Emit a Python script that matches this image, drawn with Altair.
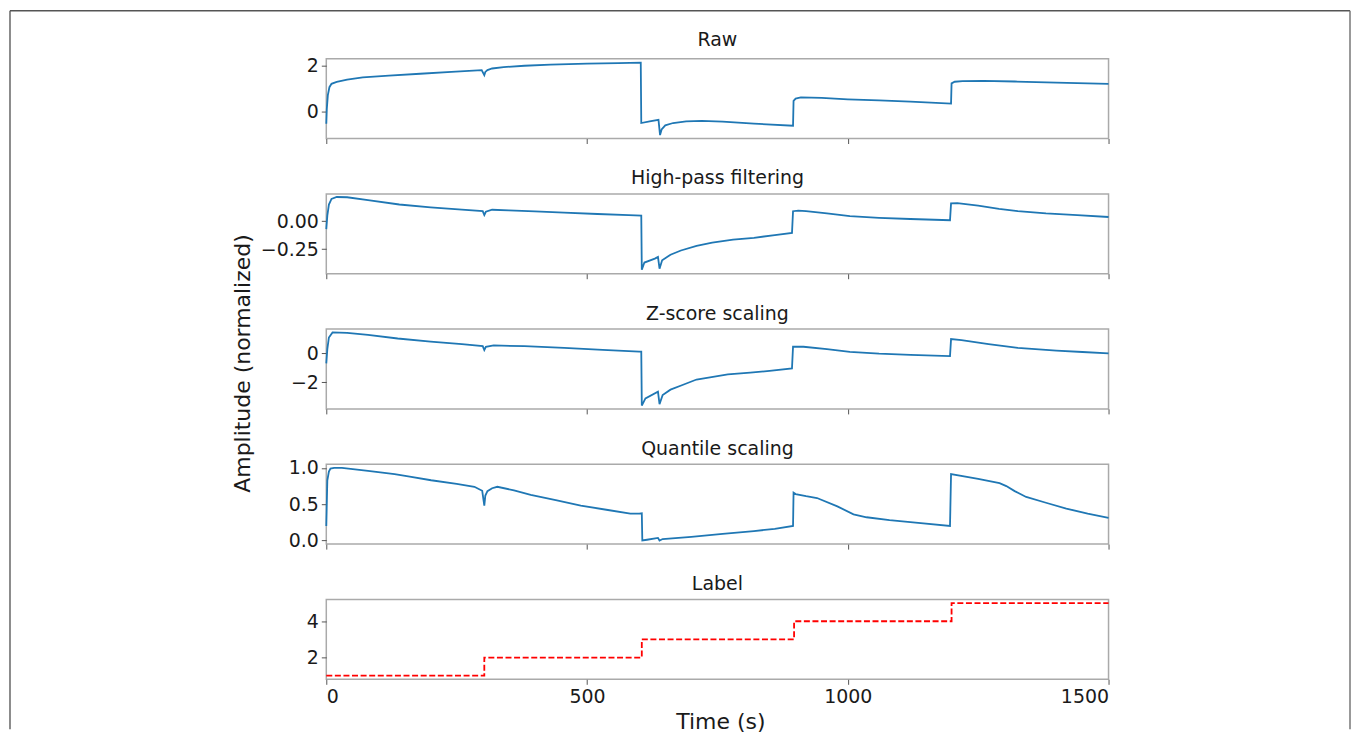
import altair as alt
import pandas as pd

# ---------------- data ----------------
raw_t = [0, 1, 3, 6, 10, 20, 40, 70, 120, 180, 240, 298, 303, 305, 309, 318, 340, 380, 430, 500, 560,
         603, 604, 620, 637, 640, 643, 650, 665, 690, 720, 760, 820, 895, 896, 900, 910, 950, 1000,
         1060, 1120, 1198, 1199, 1205, 1220, 1260, 1320, 1400, 1460, 1500]
raw_v = [-0.55, 0.1, 0.7, 1.05, 1.2, 1.28, 1.38, 1.48, 1.56, 1.64, 1.72, 1.80, 1.58, 1.72, 1.80, 1.87,
         1.93, 1.99, 2.04, 2.08, 2.11, 2.13, -0.52, -0.45, -0.38, -1.05, -0.8, -0.62, -0.52, -0.45,
         -0.43, -0.46, -0.55, -0.64, 0.45, 0.55, 0.6, 0.58, 0.52, 0.47, 0.42, 0.33, 1.22, 1.29, 1.32,
         1.33, 1.30, 1.25, 1.22, 1.20]

hp_t = [0, 2, 5, 10, 20, 40, 80, 140, 200, 260, 300, 303, 306, 318, 350, 400, 456, 520, 580, 604,
        605, 610, 630, 636, 639, 644, 660, 680, 710, 740, 780, 820, 860, 893, 895, 905, 920, 960,
        1004, 1060, 1120, 1196, 1198, 1210, 1250, 1290, 1326, 1380, 1440, 1500]
hp_v = [-0.07, 0.05, 0.15, 0.2, 0.217, 0.215, 0.19, 0.15, 0.125, 0.105, 0.09, 0.055, 0.085, 0.103,
        0.098, 0.088, 0.077, 0.065, 0.055, 0.05, -0.435, -0.37, -0.335, -0.32, -0.425, -0.35, -0.3,
        -0.262, -0.22, -0.192, -0.165, -0.148, -0.125, -0.104, 0.09, 0.095, 0.09, 0.07, 0.045, 0.03,
        0.02, 0.009, 0.16, 0.162, 0.14, 0.11, 0.09, 0.07, 0.055, 0.038]

z_t = [0, 2, 5, 12, 40, 80, 137, 200, 260, 300, 303, 306, 321, 380, 456, 530, 600, 604, 605, 612,
       636, 639, 645, 660, 683, 710, 730, 770, 813, 850, 893, 895, 915, 960, 1004, 1060, 1120, 1196,
       1198, 1218, 1270, 1326, 1400, 1450, 1500]
z_v = [-0.69, 0.3, 1.1, 1.45, 1.42, 1.28, 1.03, 0.82, 0.64, 0.5, 0.23, 0.45, 0.55, 0.5, 0.39, 0.25,
       0.13, 0.12, -3.6, -3.1, -2.64, -3.5, -2.87, -2.5, -2.18, -1.8, -1.68, -1.45, -1.33, -1.2,
       -1.03, 0.46, 0.46, 0.3, 0.11, -0.02, -0.1, -0.18, 0.99, 0.92, 0.65, 0.39, 0.2, 0.1, 0.0]

q_t = [0, 2, 5, 8, 15, 30, 80, 131, 160, 201, 250, 284, 299, 303, 305, 309, 318, 328, 360, 392, 440,
       488, 540, 583, 600, 605, 606, 615, 636, 639, 645, 700, 760, 820, 860, 895, 896, 900, 920, 941,
       980, 1011, 1036, 1080, 1130, 1196, 1198, 1250, 1291, 1304, 1320, 1342, 1380, 1419, 1460, 1500]
q_v = [0.2, 0.83, 0.95, 0.99, 1.0, 1.0, 0.96, 0.915, 0.88, 0.83, 0.78, 0.74, 0.685, 0.48, 0.62, 0.68,
       0.72, 0.74, 0.69, 0.63, 0.555, 0.48, 0.42, 0.37, 0.37, 0.374, 0.0, 0.01, 0.036, 0.0, 0.02,
       0.05, 0.09, 0.13, 0.16, 0.2, 0.66, 0.64, 0.61, 0.585, 0.47, 0.36, 0.32, 0.28, 0.245, 0.2, 0.915,
       0.85, 0.79, 0.75, 0.68, 0.6, 0.52, 0.44, 0.37, 0.31]

label_t = [0, 303, 605, 897, 1199, 1500]
label_v = [1, 2, 3, 4, 5, 5]

x_ticks = [0, 500, 1000, 1500]

panel_titles = ["Raw", "High-pass filtering", "Z-score scaling", "Quantile scaling", "Label"]

FONT = "DejaVu Sans"
TXT = "#1a1a1a"
W, H = 784, 80
one = pd.DataFrame({"k": [0]})


def title_text(text, y=-9.5):
    return alt.Chart(one).mark_text(
        text=text, font=FONT, fontSize=19, color=TXT, align="center", baseline="alphabetic"
    ).encode(x=alt.value(W / 2), y=alt.value(y))


def panel(t, v, title, domain, yticks, yfmt, bottom=False, ytitle=False, color="#1f77b4",
          dashed=False, title_y=-9.5, extra=()):
    df = pd.DataFrame({"t": t, "v": v})
    if bottom:
        xaxis = alt.Axis(values=x_ticks, format="d", title="Time (s)", titleX=395, titleY=42,
                         titleAlign="center", titleBaseline="middle")
    else:
        xaxis = alt.Axis(values=x_ticks, labels=False, title=None)
    if ytitle:
        yaxis = alt.Axis(values=yticks, format=yfmt, title="Amplitude (normalized)", titleX=-84,
                         titleY=305, titleAngle=270, titleAlign="center", titleBaseline="middle")
    else:
        yaxis = alt.Axis(values=yticks, format=yfmt, title=None)
    if dashed:
        mark = alt.Chart(df).mark_line(color=color, strokeWidth=1.8, strokeDash=[6, 2.6],
                                       interpolate="step-after")
    else:
        mark = alt.Chart(df).mark_line(color=color, strokeWidth=1.8)
    line = mark.encode(
        x=alt.X("t:Q", scale=alt.Scale(domain=[0, 1500], nice=False, zero=False), axis=xaxis),
        y=alt.Y("v:Q", scale=alt.Scale(domain=domain, nice=False, zero=False), axis=yaxis),
    )
    return alt.layer(line, title_text(title, title_y), *extra).properties(width=W, height=H)


# figure frame (decoration around the whole figure)
fr = alt.Chart(one)
frame_left = fr.mark_rule(color="#666666", strokeWidth=1.5).encode(
    x=alt.value(-317), y=alt.value(-48), y2=alt.value(672))
frame_top = fr.mark_rule(color="#555555", strokeWidth=1.5).encode(
    x=alt.value(-317), x2=alt.value(1026), y=alt.value(-48))
frame_right = fr.mark_rule(color="#777777", strokeWidth=1.5).encode(
    x=alt.value(1026), y=alt.value(-48), y2=alt.value(672))

p1 = panel(raw_t, raw_v, panel_titles[0], [-1.2, 2.3], [0, 2], "d", ytitle=True, title_y=-13,
           extra=(frame_left, frame_top, frame_right))
p2 = panel(hp_t, hp_v, panel_titles[1], [-0.47, 0.245], [-0.25, 0.0], ".2f")
p3 = panel(z_t, z_v, panel_titles[2], [-3.83, 1.68], [-2, 0], "d")
p4 = panel(q_t, q_v, panel_titles[3], [-0.05, 1.05], [0.0, 0.5, 1.0], ".1f")
p5 = panel(label_t, label_v, panel_titles[4], [0.8, 5.2], [2, 4], "d", bottom=True,
           color="#ff0000", dashed=True)

chart = alt.vconcat(p1, p2, p3, p4, p5, spacing=55.5, bounds="flush").properties(
    padding=0, background="white"
).configure_view(
    stroke="#aaaaaa", strokeWidth=1.5
).configure_axis(
    labelFont=FONT, labelFontSize=19, labelColor=TXT, labelPadding=3,
    tickColor="#555555", tickSize=5, domain=False, grid=False,
    titleFont=FONT, titleFontSize=22, titleFontWeight="normal", titleColor=TXT
)

chart.save("out.html", embed_options={"renderer": "svg", "actions": False})
